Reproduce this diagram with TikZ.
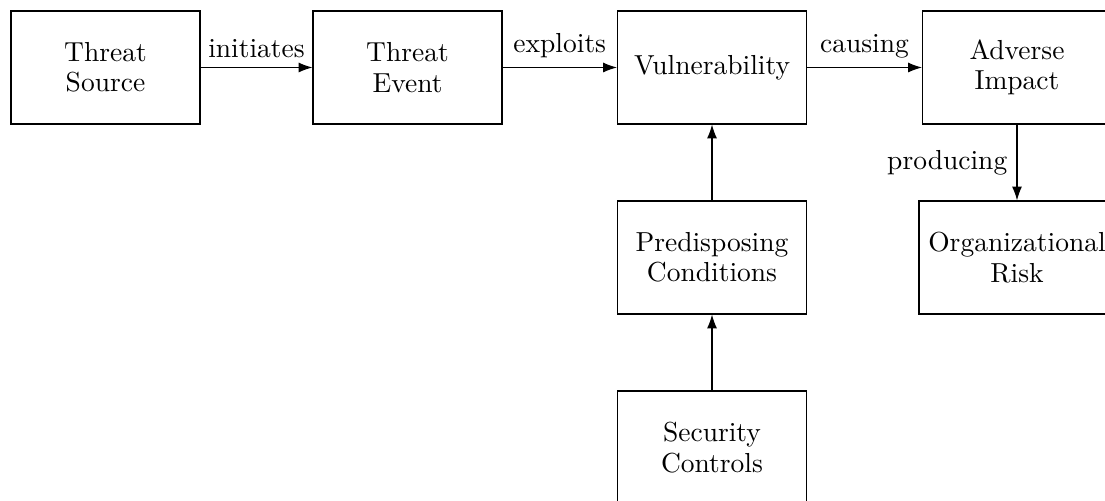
\documentclass[tikz,border=0pt]{standalone}
\IfFileExists{mathpazo.sty}{\usepackage{mathpazo}}{%
  \IfFileExists{palatino.sty}{\usepackage{palatino}}{}}
\usepackage{tikz}
\usetikzlibrary{positioning}
\usetikzlibrary{arrows.meta}
\pgfdeclarelayer{nodelayer}
\pgfdeclarelayer{edgelayer}
\pgfsetlayers{nodelayer,edgelayer,main}
\tikzset{
  box/.style={draw, rectangle, align=center, minimum width=68.7pt, minimum height=41.1pt,
    font=\fontsize{10}{11}\selectfont},
  lbl/.style={font=\fontsize{10}{11}\selectfont},
}

\begin{document}
\begin{tikzpicture}[x=0.3636pt, y=-0.3636pt, line width=0.3pt, >={Latex[length=5pt, width=3.6pt]}]
  \useasboundingbox (0, 0) rectangle (1105, 501);
  \begin{pgfonlayer}{nodelayer}
    \node [box] (0) at (105.5, 67.5) {Threat\\Source};
    \node [box] (1) at (407.5, 67.5) {Threat\\Event};
    \node [box] (2) at (712, 67.5) {Vulnerability};
    \node [box] (3) at (1017, 67.5) {Adverse\\Impact};
    \node [box] (4) at (712, 257.5) {Predisposing\\Conditions};
    \node [box, minimum width=71.3pt] (5) at (1017, 257.5) {Organizational\\Risk};
    \node [box] (6) at (712, 447.5) {Security\\Controls};
  \end{pgfonlayer}
  \begin{pgfonlayer}{edgelayer}
    \draw [->] (0) to node [lbl, above] {initiates} (1);
    \draw [->] (1) to node [lbl, above] {exploits} (2);
    \draw [->] (2) to node [lbl, above] {causing} (3);
    \draw [->] (3) to node [lbl, left] {producing} (5);
    \draw [->] (4) to (2);
    \draw [->] (6) to (4);
  \end{pgfonlayer}
\end{tikzpicture}
\end{document}
